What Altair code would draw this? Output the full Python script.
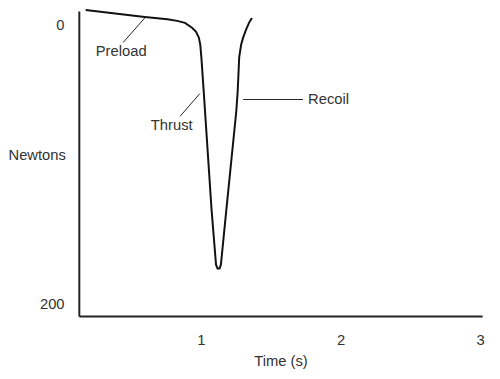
import altair as alt
import pandas as pd

# Force curve (time in s, force in N; 0 at top)
time_s = [0.176, 0.599, 0.761, 0.831, 0.887, 0.937, 0.965, 0.986, 0.996, 1.004,
          1.021, 1.035, 1.077, 1.109, 1.120, 1.134, 1.144, 1.183, 1.254, 1.264,
          1.275, 1.289, 1.303, 1.324, 1.345, 1.366]
force_n = [-10.6, -5.6, -3.9, -2.8, -1.4, 2.1, 4.9, 9.2, 14.1, 23.2,
           47.9, 69.0, 132.4, 171.8, 174.6, 174.6, 171.8, 132.4, 62.0, 47.9,
           23.2, 14.1, 9.2, 3.5, -1.4, -4.9]

# Annotations
ann_text = ["Preload", "Thrust", "Recoil"]
ann_x = [0.430, 0.792, 1.915]
ann_y = [19.0, 72.0, 53.5]
lead_x = [0.444, 0.852, 1.303]
lead_y = [12.7, 65.5, 53.5]
lead_x2 = [0.599, 0.993, 1.732]
lead_y2 = [-4.9, 49.3, 53.5]

x_ticks = [1, 2, 3]
y_ticks = [0, 200]

curve = pd.DataFrame({"t": time_s, "f": force_n, "i": range(len(time_s))})
labels = pd.DataFrame({"text": ann_text, "x": ann_x, "y": ann_y})
leaders = pd.DataFrame({"x": lead_x, "y": lead_y, "x2": lead_x2, "y2": lead_y2})

FONT = "Liberation Sans"
TXT = "#333333"

xscale = alt.Scale(domain=[0.127, 3.014], nice=False, zero=False)
yscale = alt.Scale(domain=[-9.9, 208.5], nice=False, zero=False, reverse=True)

line = alt.Chart(curve).mark_line(color="#111111", strokeWidth=2, clip=False).encode(
    x=alt.X("t:Q", scale=xscale, title="Time (s)",
            axis=alt.Axis(values=x_ticks, format="d", grid=False, ticks=False, tickSize=0,
                          labelPadding=17, labelFlush=False, labelFontSize=15,
                          labelColor=TXT, labelFont=FONT, domainColor="#222222",
                          domainWidth=2, titleFont=FONT, titleFontSize=15,
                          titleFontWeight="normal", titleColor=TXT,
                          titleBaseline="middle", titleY=45)),
    y=alt.Y("f:Q", scale=yscale, title="Newtons",
            axis=alt.Axis(values=y_ticks, format="d", grid=False, ticks=False, tickSize=0,
                          labelPadding=15, labelFontSize=15, labelColor=TXT,
                          labelFont=FONT, domainColor="#222222", domainWidth=2,
                          titleFont=FONT, titleFontSize=15, titleFontWeight="normal",
                          titleColor=TXT, titleAngle=0, titleAlign="left",
                          titleBaseline="middle", titleX=-72, titleY=146)),
    order="i:Q",
)

rules = alt.Chart(leaders).mark_rule(color="#222222", strokeWidth=1).encode(
    x="x:Q", y="y:Q", x2="x2:Q", y2="y2:Q"
)

texts = alt.Chart(labels).mark_text(font=FONT, fontSize=15, color=TXT,
                                    align="center", baseline="middle").encode(
    x="x:Q", y="y:Q", text="text:N"
)

chart = alt.layer(line, rules, texts).properties(
    width=410, height=310,
    autosize=alt.AutoSizeParams(type="none"),
    padding={"left": 72, "top": 0, "right": 10, "bottom": 55},
).configure_view(stroke=None)

chart.save("out.html", embed_options={"renderer": "svg", "actions": False})
